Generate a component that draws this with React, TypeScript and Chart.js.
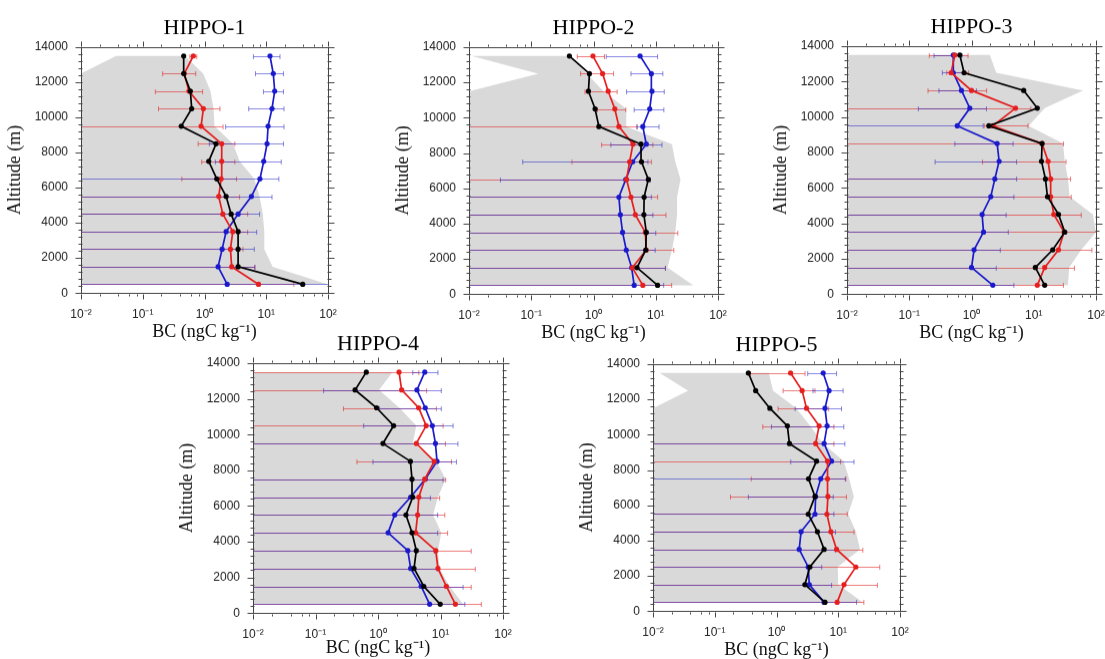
import React, { useEffect, useRef } from 'react';
import { Chart, registerables } from 'chart.js';
Chart.register(...registerables);

// Altitude levels (m), bottom to top
const ALTITUDES = [500, 1500, 2500, 3500, 4500, 5500, 6500, 7500, 8500, 9500, 10500, 11500, 12500, 13500];
const X_TICKS = [0.01, 0.1, 1, 10, 100];
const X_TICK_LABELS = ['10⁻²', '10⁻¹', '10⁰', '10¹', '10²'];
const Y_TICKS = [0, 2000, 4000, 6000, 8000, 10000, 12000, 14000];
const X_TITLE = 'BC (ngC kg⁻¹)';
const Y_TITLE = 'Altitude (m)';

// 0.001 = below the axis minimum (bar / band reaches the left edge)
// HIPPO-1
const H1_BLACK = [39, 3.5, 3.5, 3.5, 2.7, 2.24, 1.58, 1.17, 1.54, 0.42, 0.62, 0.59, 0.46, 0.46];
const H1_RED = [7.5, 2.76, 2.63, 2.87, 1.98, 1.7, 1.86, 1.9, 1.9, 0.88, 0.96, 0.56, 0.47, 0.66];
const H1_BLUE = [2.33, 1.66, 1.93, 2.24, 3.5, 5.75, 7.9, 9.1, 10.3, 10.7, 12.4, 13.7, 13, 11.5];
const H1_RED_LO = [0.001, 0.001, 0.001, 0.001, 0.001, 0.001, 0.43, 0.9, 0.79, 0.001, 0.18, 0.16, 0.21, 0.58];
const H1_RED_HI = [28, 6.6, 4.2, 5, 5, 3.7, 3.3, 3.1, 3.1, 2.0, 1.78, 0.93, 0.72, 0.75];
const H1_BLUE_LO = [0.001, 0.001, 0.001, 0.001, 0.001, 0.001, 0.001, 1.5, 1.2, 2.2, 5.2, 9, 6.7, 6.2];
const H1_BLUE_HI = [100, 6.5, 6.4, 7, 7.8, 12.4, 16, 17.5, 19, 19.4, 19.4, 19, 19, 16.7];
const H1_GRAY_LO = [0.001, 0.001, 0.001, 0.001, 0.001, 0.001, 0.001, 0.001, 0.001, 0.001, 0.001, 0.001, 0.01, 0.037];
const H1_GRAY_HI = [100, 12.7, 9.3, 9.3, 8.8, 7.8, 6.4, 3.7, 2.9, 1.45, 1.4, 1.25, 0.95, 0.48];

// HIPPO-2
const H2_BLACK = [10.7, 5.0, 6.9, 7.05, 6.45, 6.5, 7.6, 5.9, 5.8, 1.22, 1.06, 0.83, 0.86, 0.41];
const H2_RED = [6.2, 4.2, 7.05, 6.8, 4.7, 4.0, 3.4, 3.8, 4.3, 2.56, 2.2, 1.72, 1.4, 0.98];
const H2_BLUE = [4.5, 4.1, 3.36, 2.93, 2.7, 2.56, 3.3, 4.25, 7.05, 6.2, 8.0, 8.7, 8.5, 5.6];
const H2_RED_LO = [0.001, 0.001, 0.001, 0.001, 0.001, 0.001, 0.001, 0.45, 1.35, 0.001, 1.16, 0.73, 0.62, 0.55];
const H2_RED_HI = [18, 14.3, 19.5, 22.6, 14.6, 10.7, 8, 8.5, 9, 5, 3.3, 2.4, 2.1, 1.5];
const H2_BLUE_LO = [0.001, 0.001, 0.001, 0.001, 0.001, 0.001, 0.032, 0.073, 1.9, 5, 4.5, 3.4, 4, 1.6];
const H2_BLUE_HI = [13.4, 14.3, 9.8, 10, 9, 8.5, 8.2, 7.5, 12.6, 11.3, 13.5, 13.7, 13, 10.7];
const H2_GRAY_LO = [0.001, 0.001, 0.001, 0.001, 0.001, 0.001, 0.001, 0.001, 0.001, 0.001, 0.001, 0.01, 0.13, 0.011];
const H2_GRAY_HI = [40, 15.5, 18.2, 20.6, 22, 22, 25, 20.6, 18.2, 3.36, 3.36, 1.45, 0.78, 0.41];

// HIPPO-3
const H3_BLACK = [15, 10.6, 20.2, 31.5, 25, 16.6, 15.4, 13.3, 13.6, 1.9, 11.4, 6.9, 0.76, 0.65];
const H3_RED = [11.4, 15, 25, 30.7, 21, 18.7, 18.7, 17, 13.6, 2.2, 5.1, 1.0, 0.47, 0.54];
const H3_BLUE = [2.2, 1.0, 1.1, 1.56, 1.48, 2.04, 2.37, 2.78, 2.58, 0.59, 0.94, 0.69, 0.51, 0.51];
const H3_RED_LO = [0.001, 0.001, 0.001, 0.001, 0.001, 0.001, 0.001, 1.5, 0.001, 1.6, 0.001, 0.2, 0.4, 0.21];
const H3_RED_HI = [30, 45, 86, 100, 58, 40, 39, 33, 30, 8.1, 9, 1.75, 0.9, 0.88];
const H3_BLUE_LO = [0.001, 0.001, 0.001, 0.001, 0.001, 0.001, 0.001, 0.26, 0.54, 0.001, 0.14, 0.3, 0.34, 0.25];
const H3_BLUE_HI = [4.8, 2.5, 2.9, 3.9, 3.6, 4.8, 5.3, 5.3, 4.66, 1.54, 1.74, 1.2, 0.78, 0.7];
const H3_GRAY_LO = [0.001, 0.001, 0.001, 0.001, 0.001, 0.001, 0.001, 0.001, 0.001, 0.001, 0.001, 0.001, 0.001, 0.001];
const H3_GRAY_HI = [35.5, 37, 58, 100, 89, 37.6, 35.5, 31.5, 29.5, 8.3, 15, 62, 2.5, 1.97];

// HIPPO-4
const H4_BLACK = [9.9, 5.4, 3.77, 4.1, 3.5, 2.8, 3.6, 3.5, 3.3, 1.2, 1.78, 0.95, 0.43, 0.65];
const H4_RED = [17.3, 12.4, 9.1, 8.4, 4.0, 4.3, 4.5, 5.6, 7.96, 4.1, 5.9, 4.47, 2.39, 2.17];
const H4_BLUE = [6.7, 4.9, 3.33, 3.0, 1.45, 1.85, 3.33, 5.7, 8.8, 8.3, 7.4, 5.7, 4.2, 5.6];
const H4_RED_LO = [0.001, 0.001, 0.001, 0.001, 0.001, 0.001, 0.001, 0.001, 0.46, 0.001, 0.001, 0.28, 0.001, 0.001];
const H4_RED_HI = [45, 31, 36, 31, 13, 11.7, 9.7, 12.1, 15, 12, 11, 8.6, 6, 4.5];
const H4_BLUE_LO = [0.001, 0.001, 0.001, 0.001, 0.001, 0.001, 0.001, 0.001, 0.83, 0.001, 0.59, 1.06, 0.135, 3.6];
const H4_BLUE_HI = [24.5, 23, 9, 8, 9, 9, 6.9, 11, 18, 19, 15.9, 10.3, 10.3, 9.1];
const H4_GRAY_LO = [0.001, 0.001, 0.001, 0.001, 0.001, 0.001, 0.001, 0.001, 0.001, 0.001, 0.001, 0.001, 0.001, 0.001];
const H4_GRAY_HI = [23, 14, 9.7, 9.1, 10.3, 7.6, 9.1, 12.1, 8.6, 3.6, 4.1, 2.2, 1.04, 1.7];

// HIPPO-5
const H5_BLACK = [6.1, 2.88, 3.47, 5.9, 4.6, 3.26, 4.2, 3.3, 4.45, 1.62, 1.5, 0.78, 0.46, 0.35];
const H5_RED = [9.6, 12.4, 19.3, 9.4, 7.6, 6.55, 6.8, 6.7, 6.7, 4.3, 4.9, 3.06, 2.6, 1.69];
const H5_BLUE = [5.9, 3.4, 3.26, 2.33, 2.5, 4.2, 4.3, 5.2, 7.8, 5.9, 6.6, 6.1, 7.1, 5.7];
const H5_RED_LO = [0.001, 0.001, 0.001, 0.001, 0.001, 0.001, 0.18, 0.39, 0.001, 0.001, 0.6, 1.06, 1.28, 0.38];
const H5_RED_HI = [26, 43, 47, 25, 18, 14, 13.6, 13.3, 10.9, 8.5, 8.5, 7, 4.2, 2.9];
const H5_BLUE_LO = [0.001, 0.001, 0.001, 0.001, 0.001, 0.001, 0.35, 0.001, 1.7, 0.001, 0.83, 2, 3.9, 3.2];
const H5_BLUE_HI = [19.8, 7.8, 5.4, 9, 9, 8.5, 8.3, 13, 18, 12.8, 12.3, 11.3, 12, 9.4];
const H5_GRAY_LO = [0.001, 0.001, 0.001, 0.001, 0.001, 0.001, 0.001, 0.001, 0.001, 0.001, 0.001, 0.01, 0.037, 0.0128];
const H5_GRAY_HI = [25, 10, 9.8, 22.5, 19.3, 14.5, 17.9, 15, 12.3, 5.7, 3.5, 2.1, 0.88, 0.75];

const PANELS = [
  { title: 'HIPPO-1', black: H1_BLACK, red: H1_RED, blue: H1_BLUE, redLo: H1_RED_LO, redHi: H1_RED_HI, blueLo: H1_BLUE_LO, blueHi: H1_BLUE_HI, grayLo: H1_GRAY_LO, grayHi: H1_GRAY_HI, left: 81, top: 47, w: 247, h: 246, off: 39 },
  { title: 'HIPPO-2', black: H2_BLACK, red: H2_RED, blue: H2_BLUE, redLo: H2_RED_LO, redHi: H2_RED_HI, blueLo: H2_BLUE_LO, blueHi: H2_BLUE_HI, grayLo: H2_GRAY_LO, grayHi: H2_GRAY_HI, left: 469, top: 47, w: 249, h: 247, off: 39 },
  { title: 'HIPPO-3', black: H3_BLACK, red: H3_RED, blue: H3_BLUE, redLo: H3_RED_LO, redHi: H3_RED_HI, blueLo: H3_BLUE_LO, blueHi: H3_BLUE_HI, grayLo: H3_GRAY_LO, grayHi: H3_GRAY_HI, left: 847, top: 46, w: 249, h: 248, off: 39 },
  { title: 'HIPPO-4', black: H4_BLACK, red: H4_RED, blue: H4_BLUE, redLo: H4_RED_LO, redHi: H4_RED_HI, blueLo: H4_BLUE_LO, blueHi: H4_BLUE_HI, grayLo: H4_GRAY_LO, grayHi: H4_GRAY_HI, left: 253, top: 363, w: 250, h: 250, off: 35 },
  { title: 'HIPPO-5', black: H5_BLACK, red: H5_RED, blue: H5_BLUE, redLo: H5_RED_LO, redHi: H5_RED_HI, blueLo: H5_BLUE_LO, blueHi: H5_BLUE_HI, grayLo: H5_GRAY_LO, grayHi: H5_GRAY_HI, left: 653, top: 364, w: 247, h: 247, off: 39 },
];

const Y_AXIS_W = 81;
const TOP_PAD = 47;
const RIGHT_PAD = 32;
const BLACK = '#000000';
const RED = '#e61e1e';
const BLUE = '#1a1acc';
const RED_BAR = 'rgba(225,40,40,0.6)';
const BLUE_BAR = 'rgba(40,40,200,0.55)';
const GRAY = '#d9d9d9';
const AXIS = '#444444';

function Panel({ p }: { p: any }) {
  const ref = useRef<HTMLCanvasElement | null>(null);
  const cw = Y_AXIS_W + p.w + RIGHT_PAD;
  const xAxisH = p.off + 10.8;
  const ch = TOP_PAD + p.h + xAxisH;

  useEffect(() => {
    if (!ref.current) return;
    const panelPlugin = {
      id: 'panelPlugin',
      beforeDatasetsDraw(chart: any) {
        const ctx = chart.ctx;
        const { left, right, top, bottom } = chart.chartArea;
        const xs = chart.scales.x;
        const ys = chart.scales.y;
        ctx.save();
        ctx.beginPath();
        ctx.rect(left, top, right - left, bottom - top);
        ctx.clip();
        // gray range band
        ctx.beginPath();
        ALTITUDES.forEach((a, i) => {
          const x = xs.getPixelForValue(p.grayLo[i]);
          const y = ys.getPixelForValue(a);
          if (i === 0) ctx.moveTo(x, y); else ctx.lineTo(x, y);
        });
        for (let i = ALTITUDES.length - 1; i >= 0; i--) {
          ctx.lineTo(xs.getPixelForValue(p.grayHi[i]), ys.getPixelForValue(ALTITUDES[i]));
        }
        ctx.closePath();
        ctx.fillStyle = GRAY;
        ctx.fill();
        // error bars
        const bars = [
          { lo: p.redLo, hi: p.redHi, c: RED_BAR },
          { lo: p.blueLo, hi: p.blueHi, c: BLUE_BAR },
        ];
        ctx.lineWidth = 1;
        bars.forEach((b) => {
          ctx.strokeStyle = b.c;
          ALTITUDES.forEach((a, i) => {
            const y = Math.round(ys.getPixelForValue(a)) + 0.5;
            const x1 = Math.max(left, xs.getPixelForValue(b.lo[i]));
            const x2 = Math.min(right, xs.getPixelForValue(b.hi[i]));
            ctx.beginPath();
            ctx.moveTo(x1, y);
            ctx.lineTo(x2, y);
            if (x1 > left + 0.5) { ctx.moveTo(x1, y - 2.5); ctx.lineTo(x1, y + 2.5); }
            if (x2 < right - 0.5) { ctx.moveTo(x2, y - 2.5); ctx.lineTo(x2, y + 2.5); }
            ctx.stroke();
          });
        });
        ctx.restore();
      },
      afterDraw(chart: any) {
        const ctx = chart.ctx;
        const { left, right, top, bottom } = chart.chartArea;
        const xs = chart.scales.x;
        const ys = chart.scales.y;
        ctx.save();
        ctx.strokeStyle = AXIS;
        ctx.lineWidth = 1;
        const L = Math.round(left) + 0.5, R = Math.round(right) + 0.5;
        const T = Math.round(top) + 0.5, B = Math.round(bottom) + 0.5;
        ctx.beginPath();
        ctx.rect(L, T, R - L, B - T);
        // x ticks
        const xTick = (v: number, len: number) => {
          const x = Math.round(xs.getPixelForValue(v)) + 0.5;
          ctx.moveTo(x, B + 1); ctx.lineTo(x, B + len);
          ctx.moveTo(x, T - 1); ctx.lineTo(x, T - len);
        };
        X_TICKS.forEach((v) => xTick(v, 6));
        for (let k = -2; k < 2; k++) {
          [2, 4, 6, 8].forEach((d) => xTick(d * Math.pow(10, k), 3));
        }
        const yTick = (v: number, len: number) => {
          const y = Math.round(ys.getPixelForValue(v)) + 0.5;
          ctx.moveTo(L - len, y); ctx.lineTo(L + 1, y);
          ctx.moveTo(R - 1, y); ctx.lineTo(R + len, y);
        };
        Y_TICKS.forEach((v) => yTick(v, 6));
        for (let v = 400; v < 14000; v += 400) {
          if (v % 2000 !== 0) yTick(v, 3);
        }
        ctx.stroke();
        // panel title
        ctx.fillStyle = '#000';
        ctx.font = '22px "Liberation Serif", "Times New Roman", serif';
        ctx.textAlign = 'center';
        ctx.textBaseline = 'alphabetic';
        ctx.fillText(p.title, (left + right) / 2, top - 13);
        ctx.restore();
      },
    };

    const mk = (vals: number[], color: string, width: number) => ({
      data: ALTITUDES.map((a, i) => ({ x: vals[i], y: a })),
      showLine: true,
      borderColor: color,
      backgroundColor: color,
      borderWidth: width,
      pointRadius: 2.6,
      pointBorderWidth: 0,
      pointBackgroundColor: color,
      clip: 4,
    });

    const chart = new Chart(ref.current, {
      type: 'scatter',
      data: {
        datasets: [mk(p.black, BLACK, 1.7), mk(p.red, RED, 1.7), mk(p.blue, BLUE, 1.7)],
      },
      options: {
        animation: false,
        responsive: false,
        maintainAspectRatio: false,
        layout: { padding: { top: TOP_PAD, right: RIGHT_PAD, left: 0, bottom: 0 } },
        plugins: { legend: { display: false }, tooltip: { enabled: false }, title: { display: false } },
        scales: {
          x: {
            type: 'logarithmic',
            min: 0.01,
            max: 100,
            afterBuildTicks: (s: any) => { s.ticks = X_TICKS.map((v) => ({ value: v })); },
            ticks: {
              autoSkip: false,
              maxRotation: 0,
              padding: 14,
              color: '#222',
              font: { family: 'Liberation Sans', size: 12 },
              callback: (_v: any, i: number) => X_TICK_LABELS[i],
            },
            grid: { display: false, drawTicks: false },
            border: { display: false },
            title: {
              display: true,
              text: X_TITLE,
              color: '#111',
              font: { family: 'Liberation Serif', size: 18 },
              padding: { top: 0, bottom: 0 },
            },
            afterFit: (s: any) => { s.height = xAxisH; },
          },
          y: {
            type: 'linear',
            min: 0,
            max: 14000,
            afterBuildTicks: (s: any) => { s.ticks = Y_TICKS.map((v) => ({ value: v })); },
            ticks: {
              padding: 13,
              color: '#222',
              font: { family: 'Liberation Sans', size: 12 },
              callback: (v: any) => String(v),
            },
            grid: { display: false, drawTicks: false },
            border: { display: false },
            title: {
              display: true,
              text: Y_TITLE,
              color: '#111',
              font: { family: 'Liberation Serif', size: 18 },
              padding: { top: 4, bottom: 0 },
            },
            afterFit: (s: any) => { s.width = Y_AXIS_W; },
          },
        },
      } as any,
      plugins: [panelPlugin],
    });
    return () => chart.destroy();
  }, []);

  return (
    <canvas
      ref={ref}
      width={cw}
      height={ch}
      style={{ position: 'absolute', left: p.left - Y_AXIS_W, top: p.top - TOP_PAD, width: cw, height: ch, display: 'block' }}
    />
  );
}

export default function App() {
  return (
    <div style={{ position: 'absolute', left: 0, top: 0, width: 1105, height: 659, overflow: 'hidden', background: '#fff' }}>
      {PANELS.map((p) => (
        <Panel key={p.title} p={p} />
      ))}
    </div>
  );
}
